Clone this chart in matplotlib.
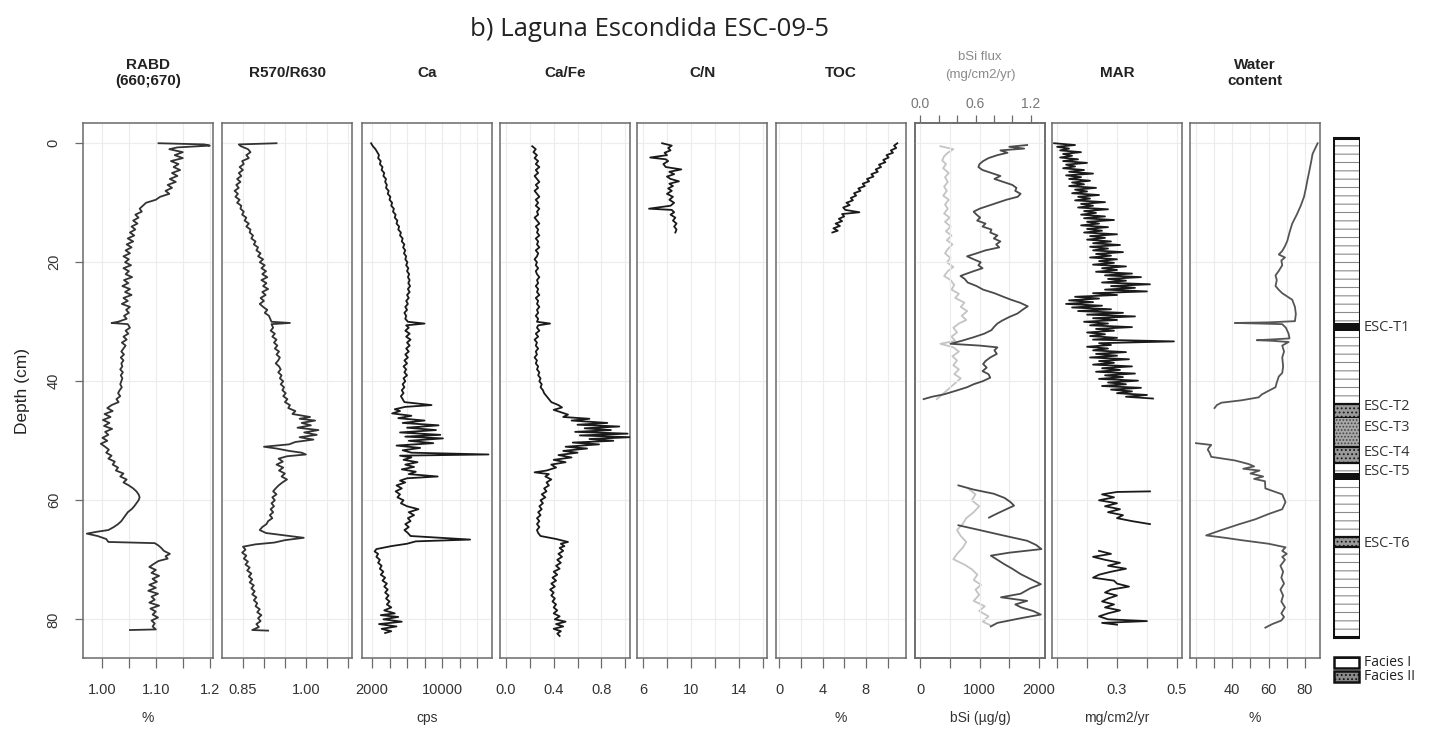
import numpy as np
import matplotlib
matplotlib.use('Agg')
import matplotlib.pyplot as plt
from matplotlib.patches import Rectangle

nan = np.nan

# ---------------- data (depth cm, value) ----------------
rabd = [(0.0, 1.105), (0.2, 1.190), (0.4, 1.200), (0.7, 1.140), (1.0, 1.125), (1.5, 1.150), (2.0, 1.135),
        (2.5, 1.150), (3.0, 1.128), (3.5, 1.142), (4.0, 1.133), (4.5, 1.145), (5.0, 1.130), (5.5, 1.140),
        (6.0, 1.126), (6.5, 1.137), (7.0, 1.122), (7.5, 1.130), (8.0, 1.118), (8.5, 1.125), (9.0, 1.108),
        (9.5, 1.100), (10.0, 1.082), (10.5, 1.076), (11.0, 1.070), (11.5, 1.074), (12.0, 1.062), (12.5, 1.068),
        (13.0, 1.058), (13.5, 1.066), (14.0, 1.055), (14.5, 1.062), (15.0, 1.052), (15.5, 1.060), (16.0, 1.048),
        (16.5, 1.058), (17.0, 1.046), (17.5, 1.055), (18.0, 1.044), (18.5, 1.052), (19.0, 1.040), (19.5, 1.050),
        (20.0, 1.043), (20.5, 1.054), (21.0, 1.040), (21.5, 1.050), (22.0, 1.044), (22.5, 1.056), (23.0, 1.041),
        (23.5, 1.049), (24.0, 1.038), (24.5, 1.052), (25.0, 1.043), (25.5, 1.055), (26.0, 1.040), (26.5, 1.048),
        (27.0, 1.037), (27.5, 1.052), (28.0, 1.045), (28.5, 1.050), (29.0, 1.041), (29.5, 1.046), (30.0, 1.030),
        (30.2, 1.018), (30.4, 1.048), (31.0, 1.052), (31.5, 1.044), (32.0, 1.049), (32.5, 1.040), (33.0, 1.046),
        (33.5, 1.037), (34.0, 1.044), (34.5, 1.040), (35.0, 1.036), (35.5, 1.041), (36.0, 1.035), (36.5, 1.040),
        (37.0, 1.036), (37.5, 1.038), (38.0, 1.034), (38.5, 1.039), (39.0, 1.035), (39.5, 1.038), (40.0, 1.036),
        (40.5, 1.034), (41.0, 1.037), (41.5, 1.033), (42.0, 1.030), (42.5, 1.034), (43.0, 1.027), (43.5, 1.031),
        (44.0, 1.018), (44.5, 1.010), (45.0, 1.020), (45.5, 1.005), (46.0, 1.016), (46.5, 1.002), (47.0, 1.014),
        (47.5, 1.004), (48.0, 1.019), (48.5, 1.006), (49.0, 1.012), (49.5, 1.001), (50.0, 1.010), (50.5, 0.998),
        (51.0, 1.006), (51.5, 1.013), (52.0, 1.008), (52.5, 1.018), (53.0, 1.012), (53.5, 1.024), (54.0, 1.020),
        (54.5, 1.030), (55.0, 1.026), (55.5, 1.040), (56.0, 1.034), (56.5, 1.046), (57.0, 1.040), (57.5, 1.050),
        (58.0, 1.058), (58.5, 1.064), (59.0, 1.068), (59.5, 1.070), (60.0, 1.068), (60.5, 1.064), (61.0, 1.060),
        (61.5, 1.055), (62.0, 1.048), (62.5, 1.044), (63.0, 1.040), (63.5, 1.036), (64.0, 1.030), (64.5, 1.022),
        (65.0, 1.012), (65.3, 0.990), (65.6, 0.972), (66.0, 0.992), (66.5, 1.008), (67.0, 1.012), (67.2, 1.098),
        (67.6, 1.105), (68.0, 1.110), (68.5, 1.115), (69.0, 1.126), (69.4, 1.118), (69.8, 1.122), (70.2, 1.105),
        (70.7, 1.096), (71.2, 1.088), (71.7, 1.100), (72.2, 1.092), (72.7, 1.106), (73.2, 1.094), (73.7, 1.102),
        (74.2, 1.088), (74.7, 1.100), (75.2, 1.086), (75.7, 1.104), (76.2, 1.092), (76.7, 1.098), (77.2, 1.088),
        (77.7, 1.106), (78.2, 1.090), (78.7, 1.100), (79.2, 1.094), (79.7, 1.104), (80.2, 1.092), (80.7, 1.098),
        (81.2, 1.094), (81.7, 1.100), (81.8, 1.052)]

r570 = [(0.0, 0.930), (0.2, 0.840), (0.5, 0.845), (1.0, 0.862), (1.5, 0.868), (2.0, 0.858), (2.5, 0.864),
        (3.0, 0.848), (3.5, 0.852), (4.0, 0.842), (4.5, 0.850), (5.0, 0.840), (5.5, 0.846), (6.0, 0.836),
        (6.5, 0.844), (7.0, 0.834), (7.5, 0.840), (8.0, 0.830), (8.5, 0.838), (9.0, 0.832), (9.5, 0.842),
        (10.0, 0.836), (10.5, 0.846), (11.0, 0.844), (11.5, 0.852), (12.0, 0.848), (12.5, 0.858), (13.0, 0.854),
        (13.5, 0.864), (14.0, 0.858), (14.5, 0.868), (15.0, 0.866), (15.5, 0.874), (16.0, 0.870), (16.5, 0.880),
        (17.0, 0.876), (17.5, 0.886), (18.0, 0.882), (18.5, 0.892), (19.0, 0.886), (19.5, 0.898), (20.0, 0.890),
        (20.5, 0.902), (21.0, 0.894), (21.5, 0.905), (22.0, 0.896), (22.5, 0.908), (23.0, 0.894), (23.5, 0.906),
        (24.0, 0.898), (24.5, 0.910), (25.0, 0.896), (25.5, 0.904), (26.0, 0.892), (26.5, 0.900), (27.0, 0.890),
        (27.5, 0.898), (28.0, 0.908), (28.5, 0.902), (29.0, 0.912), (29.5, 0.915), (30.0, 0.918), (30.2, 0.962),
        (30.4, 0.918), (31.0, 0.922), (31.5, 0.916), (32.0, 0.926), (32.5, 0.920), (33.0, 0.930), (33.5, 0.924),
        (34.0, 0.932), (34.5, 0.926), (35.0, 0.936), (35.5, 0.930), (36.0, 0.938), (36.5, 0.934), (37.0, 0.928),
        (37.5, 0.936), (38.0, 0.940), (38.5, 0.934), (39.0, 0.942), (39.5, 0.938), (40.0, 0.946), (40.5, 0.940),
        (41.0, 0.948), (41.5, 0.944), (42.0, 0.952), (42.5, 0.946), (43.0, 0.956), (43.5, 0.950), (44.0, 0.962),
        (44.5, 0.958), (45.0, 0.975), (45.5, 0.968), (46.0, 1.010), (46.3, 0.985), (46.6, 1.022), (47.0, 0.990),
        (47.4, 1.012), (47.8, 0.980), (48.2, 1.030), (48.6, 0.996), (49.0, 1.026), (49.4, 0.985), (49.8, 1.018),
        (50.2, 0.975), (50.6, 0.960), (51.0, 0.900), (51.3, 0.930), (51.7, 0.960), (52.0, 0.990), (52.3, 1.000),
        (52.6, 0.955), (53.0, 0.935), (53.5, 0.945), (54.0, 0.930), (54.5, 0.946), (55.0, 0.936), (55.5, 0.950),
        (56.0, 0.942), (56.5, 0.955), (57.0, 0.944), (57.5, 0.935), (58.0, 0.928), (58.5, 0.922), (59.0, 0.930),
        (59.5, 0.920), (60.0, 0.926), (60.5, 0.918), (61.0, 0.924), (61.5, 0.916), (62.0, 0.922), (62.5, 0.914),
        (63.0, 0.920), (63.5, 0.910), (64.0, 0.906), (64.5, 0.896), (65.0, 0.890), (65.5, 0.905), (66.0, 0.960),
        (66.3, 0.995), (66.7, 0.950), (67.1, 0.925), (67.4, 0.880), (67.8, 0.850), (68.3, 0.856), (68.8, 0.848),
        (69.3, 0.858), (69.8, 0.852), (70.3, 0.862), (70.8, 0.856), (71.3, 0.866), (71.8, 0.860), (72.3, 0.870),
        (72.8, 0.864), (73.3, 0.872), (73.8, 0.866), (74.3, 0.876), (74.8, 0.870), (75.3, 0.878), (75.8, 0.872),
        (76.3, 0.882), (76.8, 0.876), (77.3, 0.884), (77.8, 0.880), (78.3, 0.890), (78.8, 0.884), (79.3, 0.894),
        (79.8, 0.886), (80.3, 0.892), (80.8, 0.882), (81.3, 0.888), (81.8, 0.872), (81.9, 0.910)]

ca = [(0.0, 1900), (0.5, 2100), (1.0, 2400), (1.5, 2600), (2.0, 2800), (2.5, 2700), (3.0, 3000), (3.5, 2900),
      (4.0, 3200), (4.5, 3100), (5.0, 3400), (5.5, 3300), (6.0, 3600), (6.5, 3500), (7.0, 3700), (7.5, 3600),
      (8.0, 3900), (8.5, 3800), (9.0, 4100), (9.5, 4000), (10.0, 4300), (10.5, 4200), (11.0, 4500), (11.5, 4400),
      (12.0, 4700), (12.5, 4600), (13.0, 4900), (13.5, 4800), (14.0, 5100), (14.5, 5000), (15.0, 5300),
      (15.5, 5200), (16.0, 5500), (16.5, 5400), (17.0, 5700), (17.5, 5550), (18.0, 5800), (18.5, 5650),
      (19.0, 5900), (19.5, 5800), (20.0, 6050), (20.5, 5900), (21.0, 6150), (21.5, 6000), (22.0, 6250),
      (22.5, 6100), (23.0, 6300), (23.5, 6150), (24.0, 6350), (24.5, 6100), (25.0, 6300), (25.5, 6000),
      (26.0, 6200), (26.5, 5900), (27.0, 6100), (27.5, 5800), (28.0, 6000), (28.5, 5700), (29.0, 5900),
      (29.5, 5800), (30.0, 6100), (30.3, 8000), (30.6, 5900), (31.0, 6200), (31.5, 5800), (32.0, 6300),
      (32.5, 5900), (33.0, 6400), (33.5, 6000), (34.0, 6300), (34.5, 5900), (35.0, 6200), (35.5, 5800),
      (36.0, 6100), (36.5, 5700), (37.0, 6000), (37.5, 5600), (38.0, 5900), (38.5, 5700), (39.0, 6000),
      (39.5, 5600), (40.0, 5800), (40.5, 5500), (41.0, 5700), (41.5, 5400), (42.0, 5600), (42.5, 5300),
      (43.0, 5500), (43.5, 5700), (44.0, 8800), (44.3, 5800), (44.7, 4600), (45.0, 5200), (45.4, 4300),
      (45.8, 6500), (46.2, 5000), (46.6, 8000), (47.0, 5500), (47.4, 9600), (47.8, 6000), (48.2, 9300),
      (48.6, 5200), (49.0, 9800), (49.3, 5800), (49.6, 10100), (50.0, 6200), (50.4, 9000), (50.8, 4800),
      (51.2, 7500), (51.6, 5500), (52.0, 6500), (52.3, 15300), (52.5, 5200), (52.8, 6500), (53.2, 5600),
      (53.6, 7200), (54.0, 5800), (54.4, 6800), (54.8, 5400), (55.2, 7000), (55.6, 6200), (56.0, 9500),
      (56.3, 6000), (56.7, 5200), (57.0, 5800), (57.5, 4800), (58.0, 5400), (58.5, 4700), (59.0, 5200),
      (59.5, 4900), (60.0, 5600), (60.5, 5300), (61.0, 6000), (61.5, 7300), (62.0, 6200), (62.5, 6800),
      (63.0, 6100), (63.5, 6400), (64.0, 5800), (64.5, 6200), (65.0, 5700), (65.5, 6100), (66.0, 6400),
      (66.6, 13200), (66.9, 7000), (67.3, 6000), (67.7, 4200), (68.2, 2500), (68.6, 2300), (69.0, 2700),
      (69.5, 2500), (70.0, 2900), (70.5, 2700), (71.0, 3100), (71.5, 2900), (72.0, 3300), (72.5, 3000),
      (73.0, 3500), (73.5, 3200), (74.0, 3700), (74.5, 3400), (75.0, 3800), (75.5, 3500), (76.0, 3900),
      (76.5, 3600), (77.0, 4000), (77.5, 3700), (78.0, 4200), (78.5, 3400), (79.0, 4600), (79.3, 3000),
      (79.6, 5000), (80.0, 3300), (80.4, 5400), (80.8, 2800), (81.2, 4800), (81.6, 3100), (82.0, 4200),
      (82.3, 3500)]

cafe = [(0.5, 0.22), (1.0, 0.25), (1.5, 0.23), (2.0, 0.26), (2.5, 0.24), (3.0, 0.27), (3.5, 0.25), (4.0, 0.28),
        (4.5, 0.25), (5.0, 0.27), (5.5, 0.24), (6.0, 0.26), (6.5, 0.28), (7.0, 0.25), (7.5, 0.27), (8.0, 0.24),
        (8.5, 0.26), (9.0, 0.28), (9.5, 0.25), (10.0, 0.27), (10.5, 0.25), (11.0, 0.28), (11.5, 0.26),
        (12.0, 0.27), (12.5, 0.24), (13.0, 0.26), (13.5, 0.28), (14.0, 0.25), (14.5, 0.27), (15.0, 0.26),
        (15.5, 0.28), (16.0, 0.25), (16.5, 0.27), (17.0, 0.26), (17.5, 0.28), (18.0, 0.25), (18.5, 0.27),
        (19.0, 0.26), (19.5, 0.24), (20.0, 0.26), (20.5, 0.25), (21.0, 0.27), (21.5, 0.25), (22.0, 0.26),
        (22.5, 0.28), (23.0, 0.26), (23.5, 0.27), (24.0, 0.25), (24.5, 0.27), (25.0, 0.26), (25.5, 0.28),
        (26.0, 0.25), (26.5, 0.27), (27.0, 0.26), (27.5, 0.28), (28.0, 0.26), (28.5, 0.27), (29.0, 0.25),
        (29.5, 0.27), (30.0, 0.26), (30.3, 0.37), (30.6, 0.27), (31.0, 0.26), (31.5, 0.28), (32.0, 0.25),
        (32.5, 0.27), (33.0, 0.24), (33.5, 0.26), (34.0, 0.25), (34.5, 0.27), (35.0, 0.25), (35.5, 0.26),
        (36.0, 0.24), (36.5, 0.26), (37.0, 0.25), (37.5, 0.27), (38.0, 0.26), (38.5, 0.28), (39.0, 0.27),
        (39.5, 0.29), (40.0, 0.28), (40.5, 0.30), (41.0, 0.29), (41.5, 0.31), (42.0, 0.32), (42.5, 0.34),
        (43.0, 0.36), (43.5, 0.38), (44.0, 0.44), (44.4, 0.47), (44.8, 0.40), (45.2, 0.46), (45.6, 0.52),
        (46.0, 0.48), (46.3, 0.70), (46.6, 0.55), (47.0, 0.85), (47.3, 0.60), (47.6, 0.95), (47.9, 0.66),
        (48.2, 0.88), (48.5, 0.58), (48.8, 1.02), (49.1, 0.62), (49.4, 1.04), (49.7, 0.70), (50.0, 0.90),
        (50.3, 0.56), (50.6, 0.78), (51.0, 0.50), (51.3, 0.68), (51.7, 0.48), (52.0, 0.60), (52.4, 0.44),
        (52.8, 0.55), (53.2, 0.40), (53.6, 0.50), (54.0, 0.38), (54.5, 0.42), (55.0, 0.34), (55.3, 0.24),
        (55.6, 0.36), (56.0, 0.33), (56.5, 0.38), (57.0, 0.34), (57.5, 0.36), (58.0, 0.32), (58.5, 0.34),
        (59.0, 0.30), (59.5, 0.33), (60.0, 0.29), (60.5, 0.31), (61.0, 0.28), (61.5, 0.30), (62.0, 0.27),
        (62.5, 0.29), (63.0, 0.26), (63.5, 0.28), (64.0, 0.26), (64.5, 0.28), (65.0, 0.26), (65.5, 0.27),
        (66.0, 0.29), (66.5, 0.42), (67.0, 0.52), (67.3, 0.46), (67.7, 0.49), (68.0, 0.45), (68.5, 0.48),
        (69.0, 0.44), (69.5, 0.47), (70.0, 0.43), (70.5, 0.46), (71.0, 0.42), (71.5, 0.45), (72.0, 0.40),
        (72.5, 0.43), (73.0, 0.39), (73.5, 0.42), (74.0, 0.38), (74.5, 0.41), (75.0, 0.37), (75.5, 0.40),
        (76.0, 0.38), (76.5, 0.41), (77.0, 0.39), (77.5, 0.42), (78.0, 0.40), (78.5, 0.43), (79.0, 0.40),
        (79.5, 0.45), (80.0, 0.41), (80.4, 0.50), (80.8, 0.42), (81.2, 0.48), (81.6, 0.40), (82.0, 0.46),
        (82.4, 0.43), (82.8, 0.45)]

cn = [(0.0, 7.6), (0.4, 8.4), (0.8, 8.1), (1.2, 8.3), (1.6, 7.8), (2.0, 8.0), (2.4, 6.6), (2.7, 7.9), (3.0, 8.1),
      (3.5, 7.7), (4.0, 7.9), (4.4, 9.2), (4.8, 8.2), (5.2, 8.6), (5.6, 8.0), (6.0, 8.3), (6.4, 9.0), (6.8, 8.2),
      (7.2, 8.5), (7.6, 8.1), (8.0, 8.4), (8.5, 8.0), (9.0, 8.5), (9.5, 8.2), (10.0, 8.6), (10.5, 8.3),
      (11.0, 6.5), (11.2, 8.4), (11.6, 8.6), (12.0, 8.3), (12.5, 8.7), (13.0, 8.5), (13.5, 8.8), (14.0, 8.6),
      (14.5, 8.8), (15.0, 8.7)]

toc = [(0.0, 10.9), (0.4, 10.6), (0.8, 10.8), (1.2, 10.3), (1.6, 10.5), (2.0, 9.9), (2.4, 10.1), (2.8, 9.6),
       (3.2, 9.8), (3.6, 9.2), (4.0, 9.4), (4.4, 8.9), (4.8, 9.1), (5.2, 8.5), (5.6, 8.7), (6.0, 8.1), (6.4, 8.3),
       (6.8, 7.7), (7.2, 7.9), (7.6, 7.3), (8.0, 7.5), (8.4, 6.9), (8.8, 7.1), (9.2, 6.6), (9.6, 6.8), (10.0, 6.2),
       (10.4, 6.5), (10.8, 5.9), (11.2, 6.1), (11.6, 7.4), (11.9, 5.8), (12.3, 6.0), (12.7, 5.5), (13.1, 5.8),
       (13.5, 5.2), (13.9, 5.6), (14.3, 5.0), (14.7, 5.4), (15.0, 4.9)]

bsi = [(0.3, 1800), (0.6, 1500), (0.9, 1750), (1.2, 1350), (1.6, 1470), (2.0, 1300), (2.5, 1150), (3.0, 1060),
       (3.5, 1000), (4.0, 980), (4.5, 1050), (5.0, 1200), (5.5, 1350), (6.0, 1250), (6.5, 1400), (7.0, 1550),
       (7.5, 1620), (8.0, 1600), (8.5, 1690), (9.0, 1640), (9.5, 1450), (10.0, 1300), (10.5, 1150), (11.0, 1000),
       (11.5, 900), (12.0, 950), (12.5, 1010), (13.0, 960), (13.5, 1100), (14.0, 1050), (14.5, 1200),
       (15.0, 1180), (15.5, 1300), (16.0, 1240), (16.5, 1350), (17.0, 1280), (17.5, 1330), (18.0, 1100),
       (18.5, 950), (19.0, 790), (19.5, 900), (20.0, 1020), (20.5, 980), (21.0, 1050), (21.5, 900), (22.0, 760),
       (22.3, 680), (22.8, 750), (23.4, 800), (24.0, 950), (24.6, 1060), (25.2, 1250), (25.8, 1400),
       (26.3, 1530), (26.8, 1680), (27.4, 1810), (28.0, 1720), (28.6, 1640), (29.2, 1500), (29.8, 1380),
       (30.3, 1300), (30.8, 1250), (31.4, 1200), (32.0, 1080), (32.6, 900), (33.2, 700), (33.7, 510),
       (34.0, 1000), (34.3, 1300), (34.8, 1250), (35.4, 1290), (36.0, 1180), (36.6, 1100), (37.1, 1060),
       (37.7, 1120), (38.3, 1050), (38.8, 1150), (39.4, 1180), (40.0, 1050), (40.5, 900), (41.0, 790),
       (41.6, 600), (42.2, 400), (42.6, 200), (43.0, 60), (nan, nan),
       (57.5, 645), (58.2, 900), (58.9, 1240), (59.6, 1420), (60.3, 1520), (60.9, 1580), (61.5, 1450),
       (62.2, 1300), (62.9, 1160), (nan, nan),
       (64.2, 645), (65.0, 1000), (65.8, 1350), (66.8, 1800), (67.5, 1950), (68.2, 2040), (68.8, 1500),
       (69.3, 1190), (70.0, 1300), (70.7, 1410), (71.5, 1550), (72.4, 1690), (73.2, 1850), (74.1, 2030),
       (74.8, 1850), (75.7, 1690), (76.3, 1360), (76.9, 1800), (77.5, 1600), (78.0, 1700), (78.6, 1900),
       (79.2, 2030), (79.8, 1700), (80.6, 1300), (81.2, 1190)]

bsi_flux = [(0.5, 0.22), (1.0, 0.36), (1.6, 0.30), (2.2, 0.26), (2.9, 0.24), (3.5, 0.28), (4.2, 0.25), (5.0, 0.31),
            (5.7, 0.27), (6.5, 0.30), (7.3, 0.26), (8.0, 0.29), (8.8, 0.25), (9.5, 0.31), (10.3, 0.27),
            (11.0, 0.30), (11.8, 0.26), (12.5, 0.32), (13.2, 0.27), (14.0, 0.33), (14.8, 0.28), (15.5, 0.34),
            (16.3, 0.29), (17.0, 0.35), (17.8, 0.30), (18.5, 0.27), (19.3, 0.33), (20.0, 0.29), (20.8, 0.36),
            (21.5, 0.30), (22.3, 0.26), (23.0, 0.33), (23.8, 0.37), (24.6, 0.34), (25.3, 0.42), (26.0, 0.38),
            (26.8, 0.48), (27.5, 0.44), (28.2, 0.51), (29.0, 0.45), (29.7, 0.50), (30.3, 0.42), (31.0, 0.36),
            (31.8, 0.40), (32.5, 0.34), (33.2, 0.38), (33.7, 0.22), (34.3, 0.36), (35.0, 0.42), (35.8, 0.35),
            (36.5, 0.40), (37.3, 0.36), (38.0, 0.42), (38.8, 0.37), (39.5, 0.44), (40.3, 0.38), (41.0, 0.33),
            (41.8, 0.27), (42.5, 0.22), (43.0, 0.18), (nan, nan),
            (58.0, 0.52), (59.0, 0.60), (60.0, 0.56), (61.0, 0.64), (62.0, 0.58), (63.0, 0.50), (64.0, 0.46),
            (65.0, 0.40), (66.0, 0.44), (67.0, 0.50), (68.0, 0.46), (69.0, 0.40), (69.9, 0.36), (70.8, 0.48),
            (71.6, 0.56), (72.5, 0.62), (73.4, 0.58), (74.2, 0.66), (75.0, 0.60), (75.9, 0.64), (76.9, 0.58),
            (77.8, 0.70), (78.6, 0.64), (79.5, 0.74), (80.4, 0.68), (81.0, 0.76)]

mar = [(0.0, 0.09), (0.3, 0.16), (0.6, 0.10), (0.9, 0.14), (1.2, 0.11), (1.5, 0.18), (1.8, 0.12), (2.1, 0.15),
       (2.4, 0.11), (2.7, 0.17), (3.0, 0.12), (3.3, 0.20), (3.6, 0.13), (3.9, 0.16), (4.2, 0.12), (4.5, 0.19),
       (4.8, 0.14), (5.1, 0.22), (5.4, 0.13), (5.7, 0.18), (6.0, 0.14), (6.3, 0.21), (6.6, 0.15), (6.9, 0.19),
       (7.2, 0.14), (7.5, 0.23), (7.8, 0.16), (8.1, 0.20), (8.4, 0.15), (8.7, 0.24), (9.0, 0.17), (9.3, 0.21),
       (9.6, 0.16), (9.9, 0.26), (10.2, 0.18), (10.5, 0.22), (10.8, 0.17), (11.1, 0.27), (11.4, 0.19),
       (11.7, 0.23), (12.0, 0.18), (12.3, 0.26), (12.6, 0.19), (12.9, 0.29), (13.2, 0.20), (13.5, 0.24),
       (13.8, 0.18), (14.1, 0.27), (14.4, 0.20), (14.7, 0.25), (15.0, 0.19), (15.3, 0.30), (15.6, 0.21),
       (15.9, 0.26), (16.2, 0.20), (16.5, 0.28), (16.8, 0.22), (17.1, 0.31), (17.4, 0.21), (17.7, 0.27),
       (18.0, 0.22), (18.3, 0.32), (18.6, 0.23), (18.9, 0.28), (19.2, 0.21), (19.5, 0.30), (19.8, 0.24),
       (20.1, 0.29), (20.4, 0.22), (20.7, 0.33), (21.0, 0.25), (21.3, 0.30), (21.6, 0.23), (21.9, 0.35),
       (22.2, 0.26), (22.5, 0.38), (22.8, 0.27), (23.1, 0.33), (23.4, 0.25), (23.7, 0.41), (24.0, 0.28),
       (24.3, 0.36), (24.6, 0.26), (24.9, 0.40), (25.2, 0.22), (25.5, 0.30), (25.8, 0.16), (26.1, 0.24),
       (26.4, 0.14), (26.7, 0.22), (27.0, 0.13), (27.3, 0.25), (27.6, 0.15), (27.9, 0.28), (28.2, 0.17),
       (28.5, 0.32), (28.8, 0.20), (29.1, 0.36), (29.4, 0.22), (29.7, 0.30), (30.0, 0.19), (30.3, 0.27),
       (30.6, 0.21), (30.9, 0.35), (31.2, 0.23), (31.5, 0.29), (31.8, 0.20), (32.1, 0.26), (32.4, 0.21),
       (32.7, 0.30), (33.0, 0.22), (33.3, 0.49), (33.6, 0.24), (33.9, 0.28), (34.2, 0.20), (34.5, 0.27),
       (34.8, 0.22), (35.1, 0.33), (35.4, 0.23), (35.7, 0.30), (36.0, 0.21), (36.3, 0.34), (36.6, 0.24),
       (36.9, 0.29), (37.2, 0.22), (37.5, 0.35), (37.8, 0.25), (38.1, 0.31), (38.4, 0.23), (38.7, 0.36),
       (39.0, 0.26), (39.3, 0.32), (39.6, 0.24), (39.9, 0.37), (40.2, 0.27), (40.5, 0.33), (40.8, 0.25),
       (41.1, 0.38), (41.4, 0.28), (41.7, 0.35), (42.0, 0.30), (42.3, 0.40), (42.6, 0.33), (42.9, 0.42),
       (nan, nan),
       (58.5, 0.41), (58.6, 0.30), (59.0, 0.25), (59.5, 0.29), (60.0, 0.24), (60.5, 0.30), (61.0, 0.26),
       (61.5, 0.31), (62.0, 0.27), (62.5, 0.32), (63.0, 0.30), (63.5, 0.35), (64.0, 0.41), (nan, nan),
       (68.5, 0.24), (69.0, 0.28), (69.5, 0.22), (70.0, 0.26), (70.5, 0.31), (71.0, 0.27), (71.5, 0.33),
       (72.0, 0.28), (72.5, 0.24), (73.0, 0.22), (73.5, 0.29), (74.0, 0.30), (74.5, 0.34), (75.0, 0.28),
       (75.5, 0.26), (76.0, 0.30), (76.5, 0.27), (77.0, 0.25), (77.5, 0.29), (78.0, 0.26), (78.5, 0.31),
       (79.0, 0.27), (79.5, 0.24), (80.0, 0.27), (80.3, 0.40), (80.6, 0.25), (80.9, 0.30)]

water = [(0.0, 87), (1.8, 84.2), (3.0, 83.5), (4.7, 82.4), (6.0, 81.5), (7.6, 80.5), (9.0, 79.5), (10.5, 77.7),
         (12.0, 75.5), (13.5, 73), (15.0, 71.5), (16.4, 70.3), (17.3, 69), (18.1, 67.5), (18.7, 65.6), (19.2, 69),
         (19.7, 67), (20.5, 67.5), (21.5, 65.5), (22.2, 63.8), (23.0, 64.5), (24.0, 63.8), (24.6, 65.5),
         (25.2, 67.5), (25.8, 70.5), (26.3, 73), (27.5, 74.5), (28.7, 75), (29.9, 74.5), (30.1, 60),
         (30.2, 41.4), (30.3, 55), (30.4, 67.5), (31.0, 69.5), (32.0, 71), (32.8, 71.5), (33.0, 60),
         (33.1, 53.5), (33.2, 62), (33.4, 71), (34.0, 67.5), (35.0, 68.5), (36.0, 67.5), (37.5, 68),
         (38.6, 67.5), (39.2, 65.6), (40.2, 64.5), (41.0, 63.8), (41.6, 60), (42.2, 56.3), (42.7, 54.5),
         (43.2, 45), (43.6, 34), (44.0, 31.5), (44.5, 30.2), (nan, nan),
         (50.4, 20), (50.7, 28.4), (51.2, 27), (51.5, 26.5), (52.0, 27.5), (52.7, 28.4), (53.3, 41.4),
         (53.9, 48.9), (54.3, 52), (54.7, 46), (55.0, 55), (55.5, 50), (56.0, 57), (56.4, 52), (56.8, 58),
         (58.0, 58.2), (59.0, 67.5), (60.3, 69.3), (61.5, 67.5), (62.3, 60), (63.2, 52.6), (64.0, 44),
         (65.0, 34), (65.9, 25.6), (66.3, 36), (66.7, 45), (67.3, 60), (67.9, 69.3), (68.5, 67.5), (69.0, 70),
         (69.5, 67.5), (70.0, 69), (71.0, 66.5), (72.0, 68), (73.0, 67), (74.0, 68.5), (75.0, 66.5), (76.0, 68),
         (77.0, 67), (78.0, 69), (79.0, 67), (79.6, 68.5), (80.2, 67), (80.8, 62), (81.4, 58.2)]

# lithology: tephra layers (Facies II), top / bottom depth
tephra_names = ['ESC-T1', 'ESC-T2', 'ESC-T3', 'ESC-T4', 'ESC-T5', 'ESC-T6']
tephra_top = [30.2, 43.9, 46.1, 51.0, 55.4, 66.1]
tephra_bot = [31.6, 46.1, 50.7, 53.7, 56.6, 67.9]
tephra_label_depth = [30.9, 44.3, 47.8, 51.9, 55.2, 67.2]
core_top, core_bot = -0.8, 82.9

depth_ticks = [0, 20, 40, 60, 80]

# ---------------- figure ----------------
W, H = 1435, 733
fig = plt.figure(figsize=(W / 100, H / 100), dpi=100)
plt.rcParams['hatch.linewidth'] = 0.8
SANS = ['Liberation Sans', 'DejaVu Sans']
OPEN = ['Open Sans', 'DejaVu Sans']


def fx(px):
    return px / W


def fy(py):
    return 1 - py / H


top_px, bot_px = 123, 658
ylim = (86.5, -3.4)
lefts = [83, 222, 362, 500, 637, 776, 915, 1052, 1190]
pw = 130

panels = [
    dict(title='RABD\n(660;670)', data=rabd, xlim=(0.965, 1.206), ticks=[1.0, 1.05, 1.1, 1.15, 1.2],
         labels=['1.00', '', '1.10', '', '1.2'], unit='%', color='#333333'),
    dict(title='R570/R630', data=r570, xlim=(0.80, 1.11), ticks=[0.85, 0.9, 0.95, 1.0, 1.05, 1.1],
         labels=['0.85', '', '', '1.00', '', ''], unit='', color='#333333'),
    dict(title='Ca', data=ca, xlim=(860, 15700), ticks=[2000, 4000, 6000, 8000, 10000, 12000, 14000],
         labels=['2000', '', '', '', '10000', '', ''], unit='cps', color='#1a1a1a'),
    dict(title='Ca/Fe', data=cafe, xlim=(-0.05, 1.04), ticks=[0, 0.2, 0.4, 0.6, 0.8, 1.0],
         labels=['0.0', '', '0.4', '', '0.8', ''], unit='', color='#1a1a1a'),
    dict(title='C/N', data=cn, xlim=(5.5, 16.35), ticks=[6, 8, 10, 12, 14, 16],
         labels=['6', '', '10', '', '14', ''], unit='', color='#1a1a1a'),
    dict(title='TOC', data=toc, xlim=(-0.3, 11.7), ticks=[0, 2, 4, 6, 8, 10],
         labels=['0', '', '4', '', '8', ''], unit='%', color='#1a1a1a'),
    dict(title=None, data=bsi, xlim=(-85, 2100), ticks=[0, 500, 1000, 1500, 2000],
         labels=['0', '', '1000', '', '2000'], unit='bSi (µg/g)', color='#4a4a4a'),
    dict(title='MAR', data=mar, xlim=(0.083, 0.517), ticks=[0.1, 0.2, 0.3, 0.4, 0.5],
         labels=['', '', '0.3', '', '0.5'], unit='mg/cm2/yr', color='#1a1a1a'),
    dict(title='Water\ncontent', data=water, xlim=(16.7, 88.3), ticks=[20, 30, 40, 50, 60, 70, 80],
         labels=['', '', '40', '', '60', '', '80'], unit='%', color='#555555'),
]

spine_c = '#6a6a6a'
axes = []
for i, p in enumerate(panels):
    ax = fig.add_axes([fx(lefts[i]), fy(bot_px), fx(pw), (bot_px - top_px) / H])
    arr = np.array(p['data'], dtype=float)
    ax.plot(arr[:, 1], arr[:, 0], color=p['color'], lw=1.3, zorder=3)
    ax.set_xlim(*p['xlim'])
    ax.set_ylim(*ylim)
    ax.set_xticks(p['ticks'])
    ax.set_xticklabels(p['labels'], fontsize=10.5, color='#333333', family=SANS)
    for x in p['ticks']:
        ax.axvline(x, color='#ececec', lw=0.8, zorder=0)
    for d in depth_ticks:
        ax.axhline(d, color='#ececec', lw=0.8, zorder=0)
    ax.tick_params(axis='x', direction='out', length=7, width=0.9, color=spine_c, pad=11)
    for s in ax.spines.values():
        s.set_color(spine_c)
        s.set_linewidth(1.1)
    if i == 0:
        ax.set_yticks(depth_ticks)
        ax.set_yticklabels([str(d) for d in depth_ticks], rotation=90, va='center',
                           fontsize=10.5, color='#333333', family=SANS)
        ax.tick_params(axis='y', direction='out', length=6, width=0.9, color=spine_c, pad=10)
        ax.set_ylabel('Depth (cm)', fontsize=12.5, color='#222222', family=SANS, labelpad=12)
    else:
        ax.set_yticks([])
    cx = fx(lefts[i] + pw / 2)
    if p['title']:
        fig.text(cx, fy(73), p['title'], ha='center', va='center', fontsize=11,
                 fontweight='bold', color='#222222', family=SANS, linespacing=1.25)
    if p['unit']:
        fig.text(cx, fy(718), p['unit'], ha='center', va='center', fontsize=10,
                 color='#333333', family=SANS)
    axes.append(ax)

# bSi flux on the top axis of the bSi panel
ax_b = axes[6]
ax_f = ax_b.twiny()
fl = np.array(bsi_flux, dtype=float)
ax_f.plot(fl[:, 1], fl[:, 0], color='#c4c4c4', lw=1.3)
ax_f.set_xlim(-0.055, 1.352)
ax_f.set_ylim(*ylim)
ax_f.set_xticks([0, 0.2, 0.4, 0.6, 0.8, 1.0, 1.2])
ax_f.set_xticklabels(['0.0', '', '', '0.6', '', '', '1.2'], fontsize=10, color='#777777', family=SANS)
ax_f.tick_params(axis='x', direction='out', length=6, width=0.9, color=spine_c, pad=3)
for s in ax_f.spines.values():
    s.set_color(spine_c)
    s.set_linewidth(1.1)
ax_b.set_zorder(ax_f.get_zorder() + 1)
ax_b.patch.set_visible(False)
fig.text(fx(lefts[6] + pw / 2), fy(57), 'bSi flux', ha='center', va='center', fontsize=9.5,
         color='#8a8a8a', family=SANS)
fig.text(fx(lefts[6] + pw / 2), fy(75), '(mg/cm2/yr)', ha='center', va='center', fontsize=9.5,
         color='#8a8a8a', family=SANS)

# lithology column
ax_l = fig.add_axes([fx(1333), fy(bot_px), fx(27), (bot_px - top_px) / H])
ax_l.set_xlim(0, 1)
ax_l.set_ylim(*ylim)
ax_l.axis('off')
ax_l.add_patch(Rectangle((0, core_top), 1, core_bot - core_top, facecolor='white',
                         edgecolor='#8a8a8a', hatch='--', lw=0))
styles = ['black', 'dots', 'stipple', 'dots', 'black', 'dots']
for t, b, st in zip(tephra_top, tephra_bot, styles):
    if st == 'black':
        ax_l.add_patch(Rectangle((0, t), 1, b - t, facecolor='#111111', lw=0))
    elif st == 'dots':
        ax_l.add_patch(Rectangle((0, t), 1, b - t, facecolor='#9a9a9a', edgecolor='#1a1a1a',
                                 hatch='....', lw=0))
        ax_l.add_patch(Rectangle((0, t), 1, b - t, fill=False, edgecolor='#111111', lw=1.6))
    else:
        ax_l.add_patch(Rectangle((0, t), 1, b - t, facecolor='#a8a8a8', edgecolor='#444444',
                                 hatch='.....', lw=0))
ax_l.add_patch(Rectangle((0, core_top), 1, core_bot - core_top, fill=False,
                         edgecolor='#111111', lw=2.2))
for name, d in zip(tephra_names, tephra_label_depth):
    ax_l.text(1.12, d, name, ha='left', va='center', fontsize=10.5, color='#333333',
              family=OPEN, clip_on=False)

# facies legend
fig.patches.append(Rectangle((fx(1334), fy(668)), fx(25), 11 / H, transform=fig.transFigure,
                             facecolor='white', edgecolor='#111111', hatch='-', lw=1.8))
fig.patches.append(Rectangle((fx(1334), fy(682)), fx(25), 11 / H, transform=fig.transFigure,
                             facecolor='#8a8a8a', edgecolor='#111111', hatch='....', lw=1.8))
fig.text(fx(1364), fy(662), 'Facies I', ha='left', va='center', fontsize=10, color='#222222',
         family=OPEN)
fig.text(fx(1364), fy(677), 'Facies II', ha='left', va='center', fontsize=10, color='#222222',
         family=OPEN)

fig.text(fx(650), fy(30), 'b) Laguna Escondida ESC-09-5', ha='center', va='center',
         fontsize=18.5, color='#222222', family=OPEN)

fig.savefig('out.png', dpi=100)
